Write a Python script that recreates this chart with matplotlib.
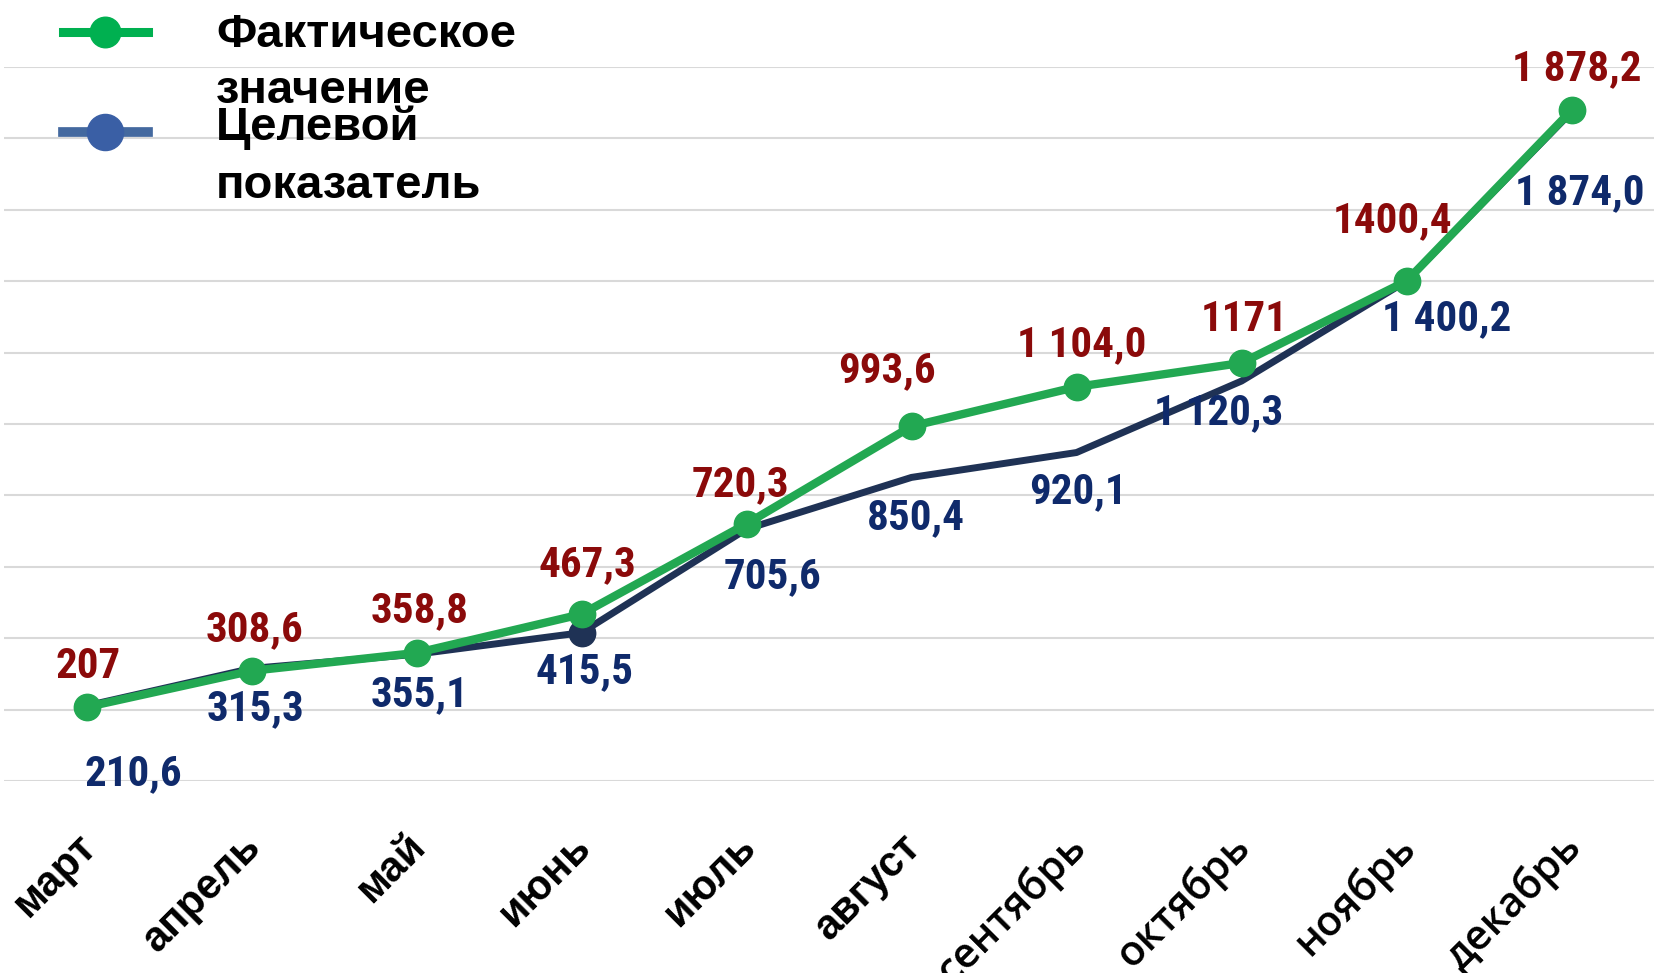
import numpy as np
import matplotlib
matplotlib.use("Agg")
import matplotlib.pyplot as plt
from matplotlib.lines import Line2D
import matplotlib.transforms as mtransforms

# ---- data ---------------------------------------------------------------
months = ["март", "апрель", "май", "июнь", "июль", "август",
          "сентябрь", "октябрь", "ноябрь", "декабрь"]
actual = [207, 308.6, 358.8, 467.3, 720.3, 993.6, 1104.0, 1171, 1400.4, 1878.2]
target = [210.6, 315.3, 355.1, 415.5, 705.6, 850.4, 920.1, 1120.3, 1400.2, 1874.0]
actual_txt = ["207", "308,6", "358,8", "467,3", "720,3", "993,6",
              "1 104,0", "1171", "1400,4", "1 878,2"]
target_txt = ["210,6", "315,3", "355,1", "415,5", "705,6", "850,4",
              "920,1", "1 120,3", "1 400,2", "1 874,0"]
legend_actual = ["Фактическое", "значение"]
legend_target = ["Целевой", "показатель"]

# label offsets from the point, in pixels (dx, dy up)
actual_off = [(2, 41), (3, 41), (3, 42), (6, 50), (-6, 39), (-25, 56),
              (5, 42), (3, 43), (-14, 60), (5, 42)]
target_off = [(47, -68), (4, -40), (3, -40), (3, -39), (26, -48), (4, -40),
              (1, -39), (-23, -32), (40, -38), (8, -81)]

GREEN, NAVY = "#22A852", "#1F3255"
RED_TXT, NAVY_TXT = "#8B0A0A", "#0F2A6B"
LBL_FONT = ["Roboto Condensed", "Liberation Sans Narrow", "Liberation Sans"]
PX = 0.72  # points per pixel at dpi 100

W, H = 1654, 973
fig = plt.figure(figsize=(W / 100, H / 100), dpi=100)
ax = fig.add_axes([4 / W, 1 - 781 / H, 1650 / W, (781 - 67) / H])

x = np.arange(len(months))
ax.plot(x, target, color=NAVY, lw=5, marker="o", markersize=19,
        markevery=[3], solid_capstyle="round", zorder=3)
ax.plot(x, actual, color=GREEN, lw=6, marker="o", markersize=19,
        solid_capstyle="round", zorder=4)

for xi, v, t, (dx, dy) in zip(x, actual, actual_txt, actual_off):
    ax.annotate(t, (xi, v), xytext=(dx * PX, dy * PX), textcoords="offset points",
                ha="center", va="center", color=RED_TXT, fontsize=31,
                fontweight="bold", family=LBL_FONT, annotation_clip=False, zorder=5)
for xi, v, t, (dx, dy) in zip(x, target, target_txt, target_off):
    ax.annotate(t, (xi, v), xytext=(dx * PX, dy * PX), textcoords="offset points",
                ha="center", va="center", color=NAVY_TXT, fontsize=31,
                fontweight="bold", family=LBL_FONT, annotation_clip=False, zorder=5)

ax.set_xlim(-0.5, len(months) - 0.5)
ax.set_ylim(0, 2000)
ax.set_yticks(np.arange(0, 2001, 200))
ax.yaxis.set_ticklabels([])
ax.tick_params(axis="y", length=0)
ax.grid(axis="y", color="#D9D9D9", lw=1.5)
ax.set_axisbelow(True)
for s in ax.spines.values():
    s.set_visible(False)

ax.set_xticks(x)
ax.set_xticklabels(months)
ax.tick_params(axis="x", length=0, pad=43)
shift = mtransforms.ScaledTranslation(3 / 100, 0, fig.dpi_scale_trans)
for i, lab in enumerate(ax.get_xticklabels()):
    lab.set_rotation(45)
    lab.set_rotation_mode("anchor")
    lab.set_ha("right")
    lab.set_va("center")
    lab.set_fontsize(30)
    lab.set_transform(lab.get_transform() + shift)
    if i < 6:
        lab.set_family("Liberation Sans")
        lab.set_fontweight("bold")
    else:
        lab.set_family("Open Sans")
        lab.set_fontweight(600)

# ---- legend (drawn by hand, text lines overlap like the original) -------
def handle(y, line_c, mark_c, lw, ms):
    fig.add_artist(Line2D([63 / W, 105 / W, 148 / W], [1 - y / H] * 3,
                          color=line_c, lw=lw, marker="o", markevery=[1],
                          markersize=ms, markerfacecolor=mark_c,
                          markeredgecolor=mark_c))

handle(32, "#00B050", "#00B050", 6.5, 22)
handle(132, "#44699F", "#3A5FA5", 7, 26)
for txt, base in zip(legend_actual + legend_target, [47, 103, 140, 198]):
    fig.text(216 / W, 1 - base / H, txt, ha="left", va="baseline",
             fontsize=34, fontweight="bold", family="Liberation Sans", color="black")

fig.savefig("out.png", dpi=100)
